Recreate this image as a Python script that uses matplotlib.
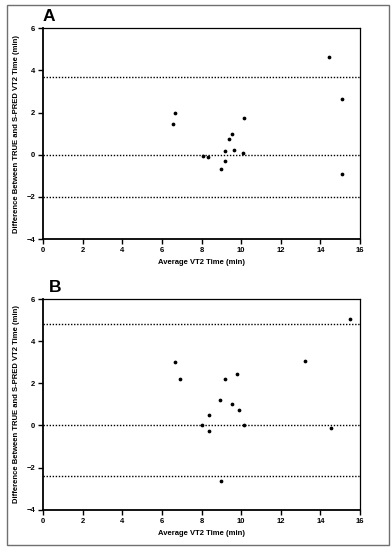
import matplotlib
matplotlib.use("Agg")
import matplotlib.pyplot as plt
from matplotlib.patches import Rectangle

plt.rcParams['font.family'] = ['Liberation Sans', 'DejaVu Sans']

# Panel A: Bland-Altman, TRUE vs S-PRED VT2 time
a_avg = [14.44, 15.07, 6.63, 6.55, 10.15, 9.51, 9.38, 9.63, 9.18, 10.07,
         8.05, 8.32, 9.16, 8.97, 15.07]
a_diff = [4.65, 2.63, 1.98, 1.44, 1.73, 0.98, 0.75, 0.24, 0.16, 0.10,
          -0.05, -0.12, -0.30, -0.69, -0.90]
a_lines = [3.70, 0.0, -2.03]

# Panel B
b_avg = [15.49, 6.63, 13.23, 6.92, 9.18, 9.78, 8.92, 9.51, 9.88, 8.39,
         8.02, 10.15, 8.39, 14.56, 8.96]
b_diff = [5.05, 3.01, 3.07, 2.19, 2.19, 2.43, 1.19, 1.00, 0.75, 0.49,
          0.0, 0.03, -0.27, -0.12, -2.65]
b_lines = [4.83, 0.0, -2.39]

xticks = [0, 2, 4, 6, 8, 10, 12, 14, 16]
yticks = [-4, -2, 0, 2, 4, 6]

W, H = 392, 550
fig = plt.figure(figsize=(W / 100, H / 100), dpi=100)

# grey frame round the whole figure
fig.patches.append(Rectangle((7 / W, 1 - 545 / H), 382 / W, 540 / H,
                             transform=fig.transFigure, fill=False,
                             edgecolor='#707070', linewidth=1.0))


def panel(rect, avg, diff, lines, letter, letter_x):
    ax = fig.add_axes(rect)
    for y in lines:
        ax.axhline(y, color='black', linestyle=(0, (1, 1.2)), linewidth=1.0)
    ax.plot(avg, diff, 'o', color='black', markersize=1.7, linestyle='none')
    ax.set_xlim(0, 16)
    ax.set_ylim(-4, 6)
    ax.set_xticks(xticks)
    ax.set_yticks(yticks)
    ax.tick_params(direction='out', length=3.5, width=1.0, labelsize=5.5, pad=2.5)
    for lab in ax.get_xticklabels() + ax.get_yticklabels():
        lab.set_fontweight('bold')
    for side in ['left', 'bottom']:
        ax.spines[side].set_linewidth(1.3)
    for side in ['top', 'right']:
        ax.spines[side].set_linewidth(0.9)
    ax.set_xlabel('Average VT2 Time (min)', fontsize=5.5, fontweight='bold')
    ax.set_ylabel('Difference Between TRUE and S-PRED VT2 Time (min)',
                  fontsize=5.5, fontweight='bold')
    ax.xaxis.set_label_coords(0.5, -0.095)
    ax.yaxis.set_label_coords(-0.075, 0.5)
    ax.text(letter_x, 1.02, letter, transform=ax.transAxes, fontsize=12.5,
            fontweight='bold', ha='left', va='bottom')
    return ax


panel([43.3 / W, 1 - 239 / H, 316.7 / W, 210.7 / H], a_avg, a_diff, a_lines, 'A', -0.003)
panel([43.3 / W, 1 - 509.7 / H, 316.7 / W, 210.7 / H], b_avg, b_diff, b_lines, 'B', 0.018)

fig.savefig('out.png', dpi=100)
